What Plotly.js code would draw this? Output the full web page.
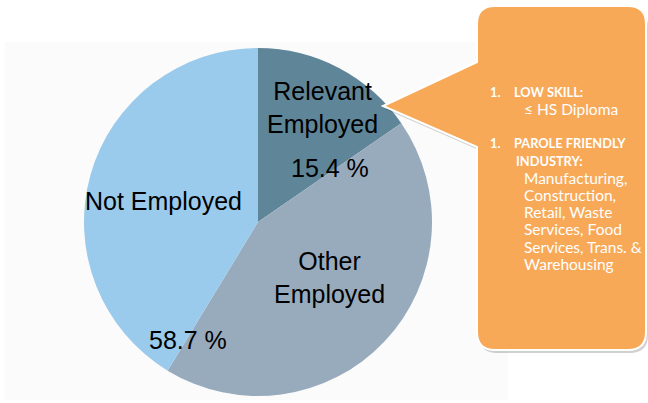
<!DOCTYPE html>
<html>
<head>
<meta charset="utf-8">
<script src="https://cdn.plot.ly/plotly-3.0.1.min.js"></script>
<style>html,body{margin:0;padding:0;background:#fff;}#chart{width:648px;height:403px;}</style>
</head>
<body>
<div id="chart"></div>
<script>
// ---- data ----
const sliceLabels = ["Relevant Employed", "Other Employed", "Not Employed"];
const sliceValues = [15.4, 43.3, 41.3];
const sliceColors = ["#5f8599", "#98abbd", "#9bcbec"];
const percentLabels = ["15.4 %", "58.7 %"];
const calloutLines = [
  {num: "1.", text: "LOW SKILL:", bold: true},
  {num: "", text: "≤ HS Diploma", bold: false},
  {num: "1.", text: "PAROLE FRIENDLY", bold: true},
  {num: "", text: "INDUSTRY:", bold: true},
  {num: "", text: "Manufacturing,", bold: false},
  {num: "", text: "Construction,", bold: false},
  {num: "", text: "Retail, Waste", bold: false},
  {num: "", text: "Services, Food", bold: false},
  {num: "", text: "Services, Trans. &", bold: false},
  {num: "", text: "Warehousing", bold: false}
];

const W = 648, H = 403;
const px = x => x / W;
const py = y => 1 - y / H;

// pie
const cx = 258, cy = 222, r = 174;
const trace = {
  type: "pie",
  labels: sliceLabels,
  values: sliceValues,
  sort: false,
  direction: "clockwise",
  rotation: 0,
  marker: {colors: sliceColors, line: {width: 0}},
  textinfo: "none",
  hoverinfo: "label+percent",
  showlegend: false,
  domain: {x: [px(cx - r), px(cx + r)], y: [py(cy + r), py(cy - r)]}
};

// callout shape path (pixel -> paper)
function P(x, y) { return px(x).toFixed(5) + "," + py(y).toFixed(5); }
const L = 477, R = 646, T = 6, B = 350, rad = 18;
const tipX = 383, tipY = 106, b1 = 62, b2 = 147;
function calloutPath(dx, dy) {
  const l = L + dx, rr = R + dx, t = T + dy, b = B + dy;
  return "M" + P(l + rad, t) +
    " L" + P(rr - rad, t) + " Q" + P(rr, t) + " " + P(rr, t + rad) +
    " L" + P(rr, b - rad) + " Q" + P(rr, b) + " " + P(rr - rad, b) +
    " L" + P(l + rad, b) + " Q" + P(l, b) + " " + P(l, b - rad) +
    " L" + P(l, b2 + dy) + " L" + P(tipX + dx, tipY + dy) + " L" + P(l, b1 + dy) +
    " L" + P(l, t + rad) + " Q" + P(l, t) + " " + P(l + rad, t) + " Z";
}

const shapes = [
  {type: "rect", xref: "paper", yref: "paper", x0: px(5), x1: px(508), y0: py(400), y1: py(42),
   fillcolor: "#fbfbfb", line: {width: 0}, layer: "below"},
  {type: "path", xref: "paper", yref: "paper", path: calloutPath(2, 3),
   fillcolor: "rgba(0,0,0,0.18)", line: {width: 0}},
  {type: "path", xref: "paper", yref: "paper", path: calloutPath(0, 0),
   fillcolor: "#f8a958", line: {color: "#ffffff", width: 2}}
];

const pieFont = {family: "Liberation Sans, Arial, sans-serif", size: 25, color: "#000"};
const annotations = [
  {x: px(322), y: py(108), text: "Relevant<br>Employed"},
  {x: px(330), y: py(168), text: percentLabels[0]},
  {x: px(163), y: py(201), text: "Not Employed"},
  {x: px(329), y: py(277), text: "Other<br>Employed"},
  {x: px(188), y: py(340), text: percentLabels[1]}
].map(a => Object.assign({xref: "paper", yref: "paper", showarrow: false, font: pieFont,
  xanchor: "center", yanchor: "middle", align: "center"}, a));

const lineY = [92, 109, 143, 161, 178, 195, 212, 229, 247, 264];
const lineX = [513, 523, 513, 515, 523, 523, 523, 523, 523, 523];
const boldFont = {family: "Lato, Open Sans, sans-serif", size: 12.8, weight: "bold", color: "#ffffff"};
const regFont = {family: "Lato, Open Sans, sans-serif", size: 15.5, color: "#ffffff"};
calloutLines.forEach((ln, i) => {
  if (ln.num) annotations.push({xref: "paper", yref: "paper", x: px(489), y: py(lineY[i]),
    text: ln.num, showarrow: false, font: boldFont, xanchor: "left", yanchor: "middle", borderpad: 0});
  annotations.push({xref: "paper", yref: "paper", x: px(lineX[i]), y: py(lineY[i]),
    text: ln.text, showarrow: false, font: ln.bold ? boldFont : regFont, xanchor: "left", yanchor: "middle", borderpad: 0});
});

Plotly.newPlot("chart", [trace], {
  width: W, height: H,
  margin: {l: 0, r: 0, t: 0, b: 0},
  paper_bgcolor: "#ffffff",
  shapes: shapes,
  annotations: annotations
}, {displayModeBar: false, staticPlot: true});
</script>
</body>
</html>
